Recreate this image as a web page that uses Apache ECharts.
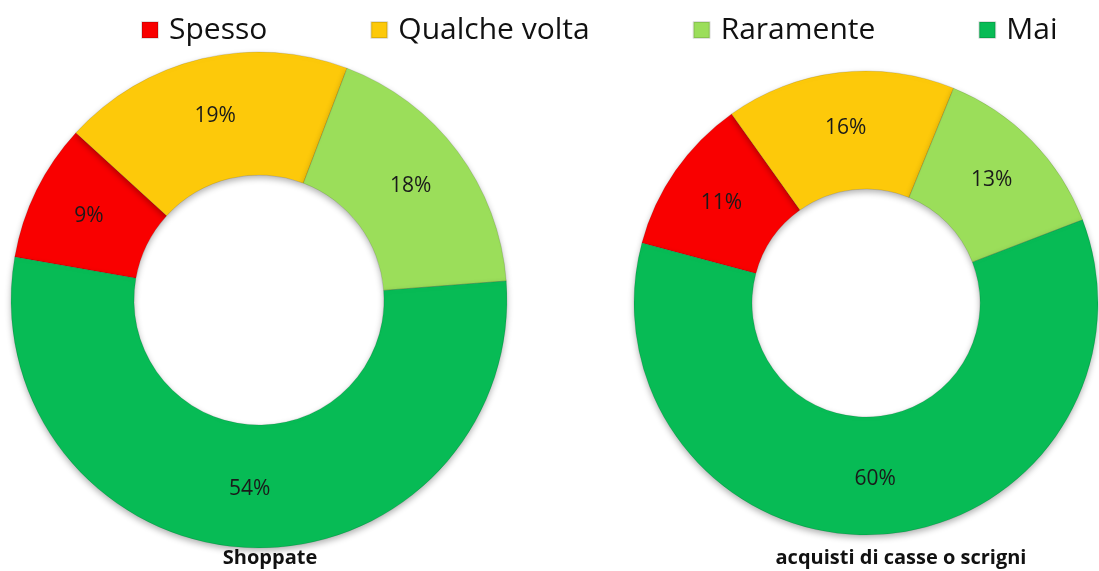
<!DOCTYPE html>
<html>
<head>
<meta charset="utf-8">
<script src="https://cdn.jsdelivr.net/npm/echarts@6/dist/echarts.min.js"></script>
<style>
  html, body { margin: 0; padding: 0; background: #fff; }
  #chart { width: 1099px; height: 571px; }
</style>
</head>
<body>
<div id="chart"></div>
<script>
// categorie e valori (%)
var categories = ['Spesso', 'Qualche volta', 'Raramente', 'Mai'];
var shoppate = [9, 19, 18, 54];
var acquisti = [11, 16, 13, 60];
var titles = ['Shoppate', 'acquisti di casse o scrigni'];
var colors = ['#f90000', '#fdc90a', '#9bde5a', '#07bb55'];

var font = '"Open Sans", Lato, sans-serif';

function toData(values) {
  return categories.map(function (name, i) {
    return { name: name, value: values[i] };
  });
}

var chart = echarts.init(document.getElementById('chart'));

var pieStyle = {
  borderColor: 'rgba(0,0,0,0.12)',
  borderWidth: 1,
  shadowBlur: 6,
  shadowOffsetY: 3,
  shadowColor: 'rgba(0,0,0,0.3)'
};

var pieLabel = {
  show: true,
  position: 'inside',
  formatter: '{c}%',
  color: '#1a1a1a',
  fontFamily: font,
  fontSize: 21
};

chart.setOption({
  color: colors,
  animation: false,
  legend: {
    data: categories,
    top: 10,
    left: 136,
    icon: 'rect',
    itemWidth: 16,
    itemHeight: 16,
    itemGap: 103,
    textStyle: {
      fontFamily: font,
      fontSize: 30,
      color: '#111',
      padding: [0, 0, 0, 6]
    }
  },
  title: [
    {
      text: titles[0],
      left: 265,
      top: 543,
      textAlign: 'center',
      textStyle: { fontFamily: font, fontSize: 20, fontWeight: 'bold', color: '#111' }
    },
    {
      text: titles[1],
      left: 896,
      top: 543,
      textAlign: 'center',
      textStyle: { fontFamily: font, fontSize: 20, fontWeight: 'bold', color: '#111' }
    }
  ],
  series: [
    {
      name: titles[0],
      type: 'pie',
      center: [259, 300],
      radius: [125, 248],
      startAngle: 170,
      clockwise: true,
      avoidLabelOverlap: false,
      itemStyle: pieStyle,
      label: pieLabel,
      labelLine: { show: false },
      emphasis: { disabled: true },
      data: toData(shoppate)
    },
    {
      name: titles[1],
      type: 'pie',
      center: [866, 303],
      radius: [114, 232],
      startAngle: 165,
      clockwise: true,
      avoidLabelOverlap: false,
      itemStyle: pieStyle,
      label: pieLabel,
      labelLine: { show: false },
      emphasis: { disabled: true },
      data: toData(acquisti)
    }
  ]
});
</script>
</body>
</html>
